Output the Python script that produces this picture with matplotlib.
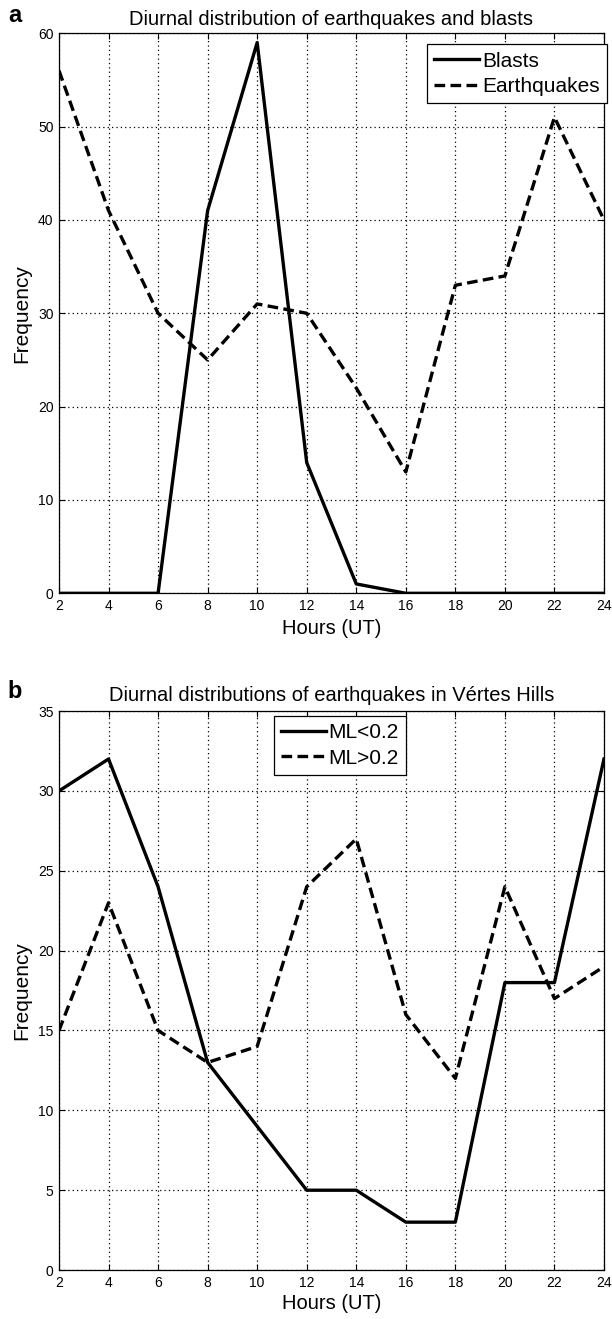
import matplotlib
matplotlib.use("Agg")
import matplotlib.pyplot as plt

plt.rcParams['font.family'] = ['Liberation Sans', 'DejaVu Sans']

# * Data
hours = [2, 4, 6, 8, 10, 12, 14, 16, 18, 20, 22, 24]

blasts = [0, 0, 0, 41, 59, 14, 1, 0, 0, 0, 0, 0]
earthquakes = [56, 41, 30, 25, 31, 30, 22, 13, 33, 34, 51, 40]

ml_low = [30, 32, 24, 13, 9, 5, 5, 3, 3, 18, 18, 32]
ml_high = [15, 23, 15, 13, 14, 24, 27, 16, 12, 24, 17, 19]

x_ticks = list(range(2, 25, 2))
y_ticks_a = list(range(0, 61, 10))
y_ticks_b = list(range(0, 36, 5))

DASH = (0, (3.2, 1.6))


def style_axes(ax, yticks, ylim, xlab_y):
    ax.set_xlim(2, 24)
    ax.set_ylim(*ylim)
    ax.set_xticks(x_ticks)
    ax.set_yticks(yticks)
    ax.tick_params(direction="in", top=True, right=True, labelsize=10, length=4, width=0.8, pad=4)
    ax.grid(True, linestyle=(0, (1, 2.5)), color="black", linewidth=0.9)
    for s in ax.spines.values():
        s.set_linewidth(0.9)
    ax.set_xlabel("Hours (UT)", fontsize=14.5)
    ax.set_ylabel("Frequency", fontsize=15)
    ax.xaxis.set_label_coords(0.5, xlab_y)
    ax.yaxis.set_label_coords(-0.051, 0.5)


def add_legend(ax, **kw):
    leg = ax.legend(fontsize=15, frameon=True, fancybox=False, edgecolor="black",
                    framealpha=1, handlelength=2.15, handletextpad=0.15, borderaxespad=0,
                    borderpad=0.35, labelspacing=0.3, **kw)
    leg.get_frame().set_linewidth(0.9)
    return leg


fig = plt.figure(figsize=(6.12, 13.19), dpi=100)

# * Panel a
ax1 = fig.add_axes([0.0964, 0.5502, 0.8905, 0.4246])
ax1.plot(hours, blasts, color="black", linewidth=2.4, label="Blasts")
ax1.plot(hours, earthquakes, color="black", linewidth=2.4, linestyle=DASH, label="Earthquakes")
style_axes(ax1, y_ticks_a, (0, 60), -0.046)
ax1.set_title("Diurnal distribution of earthquakes and blasts", fontsize=14.5, pad=6)
add_legend(ax1, loc="upper right", bbox_to_anchor=(1.0055, 0.980))
fig.text(0.013, 0.9835, "a", fontsize=17, fontweight="bold", va="baseline")

# * Panel b
ax2 = fig.add_axes([0.0964, 0.0371, 0.8905, 0.4238])
ax2.plot(hours, ml_low, color="black", linewidth=2.4, label="ML<0.2")
ax2.plot(hours, ml_high, color="black", linewidth=2.4, linestyle=DASH, label="ML>0.2")
style_axes(ax2, y_ticks_b, (0, 35), -0.042)
ax2.set_title("Diurnal distributions of earthquakes in V\u00e9rtes Hills", fontsize=14.5, pad=7)
add_legend(ax2, loc="upper left", bbox_to_anchor=(0.3936, 0.991))
fig.text(0.013, 0.4708, "b", fontsize=17, fontweight="bold", va="baseline")

fig.savefig("out.png", dpi=100)
